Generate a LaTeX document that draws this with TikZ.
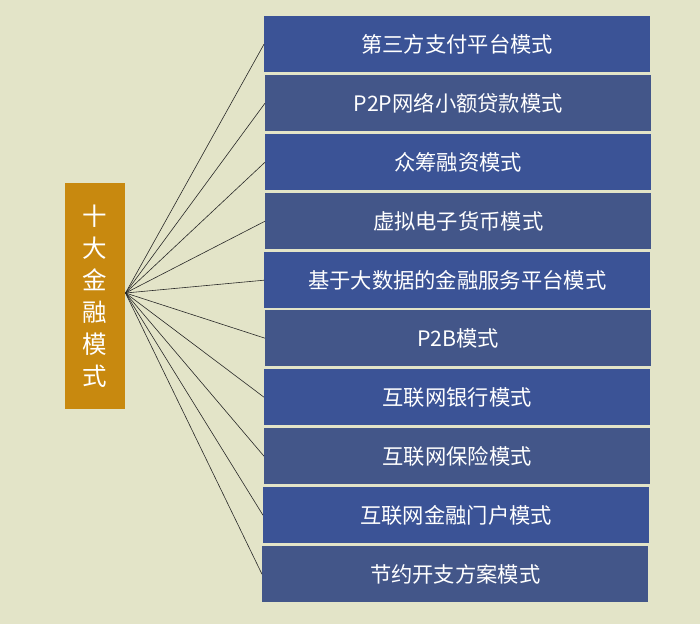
\documentclass[tikz,border=0pt]{standalone}
\usepackage{fontspec}
\newfontfamily\cjk{Noto Sans CJK SC}
\definecolor{bgc}{RGB}{227,228,200}
\definecolor{boxa}{RGB}{59,83,150}
\definecolor{boxb}{RGB}{67,86,137}
\definecolor{gold}{RGB}{200,137,15}
\definecolor{linec}{RGB}{40,40,40}
\begin{document}
\begin{tikzpicture}[x=1pt,y=-1pt,
  modebox/.style={draw=none,inner sep=0pt,minimum width=386pt,minimum height=56pt,
    text=white,font=\cjk\fontsize{21.3}{24}\selectfont,anchor=north west,
    text depth=1pt},
  brightbox/.style={modebox,fill=boxa},
  greybox/.style={modebox,fill=boxb},
  titlebox/.style={fill=gold,inner sep=0pt,minimum width=60pt,minimum height=226pt,
    text=white,align=center,font=\cjk\fontsize{24.5}{32}\selectfont,anchor=north west},
  spoke/.style={draw=linec,line width=0.6pt}]
\useasboundingbox[fill=bgc] (0,0) rectangle (700,624);
\node[titlebox] (t) at (65,183) {十\\大\\金\\融\\模\\式};
\coordinate (hub) at (125.5,293);
\node[brightbox] (b1) at (264,16) {第三方支付平台模式};
\node[greybox] (b2) at (265,75) {P2P网络小额贷款模式};
\node[brightbox] (b3) at (265,134) {众筹融资模式};
\node[greybox] (b4) at (265,193) {虚拟电子货币模式};
\node[brightbox] (b5) at (264,252) {基于大数据的金融服务平台模式};
\node[greybox] (b6) at (265,310) {P2B模式};
\node[brightbox] (b7) at (264,369) {互联网银行模式};
\node[greybox] (b8) at (264,428) {互联网保险模式};
\node[brightbox] (b9) at (263,487) {互联网金融门户模式};
\node[greybox] (b10) at (262,546) {节约开支方案模式};
\foreach \i in {1,...,10}{\draw[spoke] (hub) -- (b\i.west);}
\end{tikzpicture}
\end{document}
